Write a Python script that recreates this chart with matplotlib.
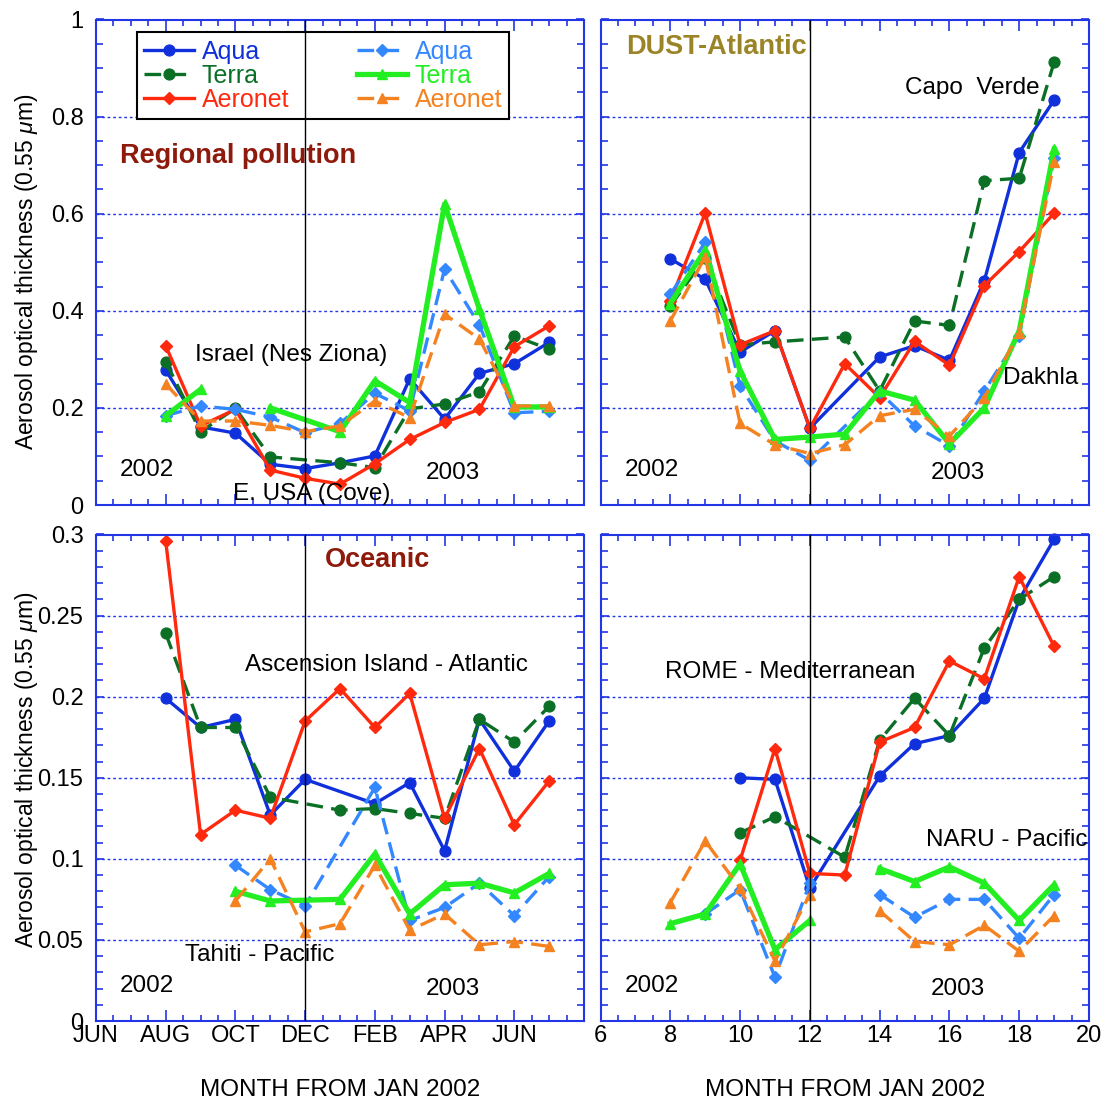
import numpy as np
import matplotlib
matplotlib.use("Agg")
import matplotlib.pyplot as plt
from matplotlib.ticker import MultipleLocator, FuncFormatter

plt.rcParams['font.family'] = 'Liberation Sans'
plt.rcParams['mathtext.fontset'] = 'custom'
plt.rcParams['mathtext.it'] = 'Liberation Sans:italic'
plt.rcParams['mathtext.rm'] = 'Liberation Sans'

NA = None      # month missing, line is drawn across it
GAP = np.nan   # month missing, line is broken

months = list(range(8, 20))  # month from Jan 2002

# Regional pollution: Israel (Nes Ziona) solid / E. USA (Cove) dashed
pol_aqua = [0.278, 0.161, 0.148, 0.084, 0.075, 0.087, 0.101, 0.26, 0.177, 0.271, 0.291, 0.335]
pol_terra = [0.295, 0.151, 0.199, 0.099, NA, 0.087, 0.077, 0.198, 0.208, 0.233, 0.348, 0.321]
pol_aeronet = [0.328, 0.163, 0.197, 0.072, 0.055, 0.043, 0.085, 0.135, 0.17, 0.197, 0.326, 0.369]
pol_aqua2 = [0.184, 0.204, 0.197, 0.181, 0.149, 0.168, 0.23, 0.194, 0.486, 0.371, 0.19, 0.193]
pol_terra2 = [0.184, 0.238, GAP, 0.2, NA, 0.151, 0.256, 0.211, 0.62, 0.403, 0.202, 0.202]
pol_aeronet2 = [0.249, 0.173, 0.173, 0.164, 0.151, 0.163, 0.214, 0.18, 0.393, 0.342, 0.204, 0.204]

# DUST-Atlantic: Capo Verde / Dakhla
dust_aqua = [0.507, 0.465, 0.315, 0.359, 0.158, NA, 0.305, 0.328, 0.298, 0.462, 0.726, 0.834]
dust_terra = [0.41, 0.509, 0.33, 0.336, NA, 0.346, 0.235, 0.379, 0.37, 0.668, 0.673, 0.912]
dust_aeronet = [0.42, 0.601, 0.33, 0.359, 0.158, 0.291, 0.221, 0.337, 0.288, 0.452, 0.522, 0.601]
dust_aqua2 = [0.434, 0.541, 0.245, 0.132, 0.092, NA, 0.232, 0.163, 0.122, 0.235, 0.348, 0.715]
dust_terra2 = [0.415, 0.525, 0.276, 0.135, 0.14, 0.146, 0.235, 0.216, 0.126, 0.2, 0.359, 0.733]
dust_aeronet2 = [0.379, 0.511, 0.168, 0.124, 0.106, 0.124, 0.184, 0.197, 0.142, 0.221, 0.355, 0.706]

# Oceanic: Ascension Island / Tahiti
oce_aqua = [0.199, 0.181, 0.186, 0.127, 0.149, NA, 0.134, 0.147, 0.105, 0.186, 0.154, 0.185]
oce_terra = [0.239, 0.181, 0.181, 0.138, NA, 0.13, 0.131, 0.128, 0.125, 0.186, 0.172, 0.194]
oce_aeronet = [0.296, 0.115, 0.13, 0.125, 0.185, 0.205, 0.181, 0.202, 0.125, 0.168, 0.121, 0.148]
oce_aqua2 = [NA, NA, 0.096, 0.081, 0.071, NA, 0.144, 0.062, 0.07, 0.085, 0.065, 0.089]
oce_terra2 = [NA, NA, 0.08, 0.074, NA, 0.075, 0.103, 0.066, 0.084, 0.085, 0.079, 0.091]
oce_aeronet2 = [NA, NA, 0.074, 0.1, 0.055, 0.06, 0.096, 0.056, 0.066, 0.047, 0.049, 0.046]

# ROME - Mediterranean / NARU - Pacific
med_aqua = [NA, NA, 0.15, 0.149, 0.082, NA, 0.151, 0.171, 0.176, 0.199, 0.26, 0.297]
med_terra = [NA, NA, 0.116, 0.126, NA, 0.101, 0.173, 0.199, 0.176, 0.23, 0.26, 0.274]
med_aeronet = [NA, NA, 0.099, 0.168, 0.091, 0.09, 0.172, 0.181, 0.222, 0.211, 0.274, 0.231]
med_aqua2 = [NA, 0.066, 0.081, 0.027, 0.085, GAP, 0.078, 0.064, 0.075, 0.075, 0.051, 0.078]
med_terra2 = [0.06, 0.066, 0.097, 0.044, 0.062, GAP, 0.094, 0.086, 0.095, 0.085, 0.062, 0.084]
med_aeronet2 = [0.073, 0.111, 0.082, 0.037, 0.078, GAP, 0.068, 0.049, 0.047, 0.059, 0.043, 0.065]

month_ticks = [6, 8, 10, 12, 14, 16, 18, 20]
month_names = ['JUN', 'AUG', 'OCT', 'DEC', 'FEB', 'APR', 'JUN', '']

# name, color, linestyle, marker, linewidth, markersize
styles = [
    ('Aqua', '#1030DC', '-', 'o', 2.4, 7.8),
    ('Terra', '#0B7026', (0, (5, 2.5)), 'o', 2.4, 7.8),
    ('Aeronet', '#FF2A0E', '-', 'D', 2.4, 6.2),
    ('Aqua', '#3388FF', (0, (5, 2.5)), 'D', 2.4, 6.2),
    ('Terra', '#22EE22', '-', '^', 3.8, 7.8),
    ('Aeronet', '#F58220', (0, (5, 2.5)), '^', 2.4, 7.8),
]

BLUE = '#2236E6'
FS = 17.5
W, H = 1106, 1107

fig = plt.figure(figsize=(W / 100, H / 100), dpi=100)


def add_ax(l, t, r, b):
    return fig.add_axes([l / W, 1 - b / H, (r - l) / W, (b - t) / H])


def series(vals):
    xs = [m for m, v in zip(months, vals) if v is not None]
    ys = [v for v in vals if v is not None]
    return xs, ys


def setup(ax, ymax, ymaj, ymin, left_labels, bottom):
    ax.set_xlim(6, 20)
    ax.set_ylim(0, ymax)
    ax.xaxis.set_major_locator(MultipleLocator(2))
    ax.xaxis.set_minor_locator(MultipleLocator(0.5))
    ax.yaxis.set_major_locator(MultipleLocator(ymaj))
    ax.yaxis.set_minor_locator(MultipleLocator(ymin))
    for s in ax.spines.values():
        s.set_color(BLUE)
        s.set_linewidth(1.5)
    ax.tick_params(which='both', direction='in', top=True, right=True,
                   color=BLUE, width=1.2, labelsize=17)
    ax.tick_params(axis='x', which='major', length=8, pad=3)
    ax.tick_params(axis='x', which='minor', length=4)
    ax.tick_params(axis='y', which='major', length=6, pad=9)
    ax.tick_params(axis='y', which='minor', length=5)
    ax.grid(axis='y', which='major', color=BLUE, linestyle=(0, (2, 2)), linewidth=1)
    ax.yaxis.set_major_formatter(FuncFormatter(lambda v, p: '%g' % round(v, 3)))
    ax.tick_params(labelleft=left_labels, labelbottom=False)
    if bottom == 'months':
        ax.set_xticks(month_ticks)
        ax.set_xticklabels(month_names)
        ax.tick_params(labelbottom=True)
    elif bottom == 'numbers':
        ax.tick_params(labelbottom=True)
    ax.axvline(12, color='k', lw=1, zorder=10)


def draw(ax, data):
    lines = []
    for vals, (name, c, ls, mk, lw, ms) in zip(data, styles):
        xs, ys = series(vals)
        ln, = ax.plot(xs, ys, color=c, linestyle=ls, marker=mk, lw=lw, ms=ms,
                      label=name, clip_on=False)
        lines.append(ln)
    return lines


ax1 = add_ax(96, 19.5, 584, 505)
ax2 = add_ax(600.5, 19.5, 1089, 505)
ax3 = add_ax(96, 534.5, 584, 1021)
ax4 = add_ax(600.5, 534.5, 1089, 1021)

setup(ax1, 1.0, 0.2, 0.05, True, None)
setup(ax2, 1.0, 0.2, 0.05, False, None)
setup(ax3, 0.3, 0.05, 0.01, True, 'months')
setup(ax4, 0.3, 0.05, 0.01, False, 'numbers')

handles = draw(ax1, [pol_aqua, pol_terra, pol_aeronet, pol_aqua2, pol_terra2, pol_aeronet2])
draw(ax2, [dust_aqua, dust_terra, dust_aeronet, dust_aqua2, dust_terra2, dust_aeronet2])
draw(ax3, [oce_aqua, oce_terra, oce_aeronet, oce_aqua2, oce_terra2, oce_aeronet2])
draw(ax4, [med_aqua, med_terra, med_aeronet, med_aqua2, med_terra2, med_aeronet2])

leg = ax1.legend(handles=handles, ncol=2, loc='upper left', bbox_to_anchor=(0.084, 0.974),
                 borderaxespad=0, fontsize=18, labelcolor='linecolor', numpoints=1,
                 handlelength=2.0, handletextpad=0.3, columnspacing=2.7,
                 labelspacing=0.0, borderpad=0.3, fancybox=False, framealpha=1)
leg.get_frame().set_edgecolor('k')
leg.get_frame().set_linewidth(1.5)

DARKRED = '#8E1A0C'
OLIVE = '#9A8426'

ax1.text(6.69, 0.718, 'Regional pollution', fontsize=19.5, fontweight='bold', color=DARKRED, va='center')
ax1.text(8.84, 0.309, 'Israel (Nes Ziona)', fontsize=FS, va='center')
ax1.text(9.93, 0.022, 'E. USA (Cove)', fontsize=FS, va='center', clip_on=False)
ax2.text(6.73, 0.943, 'DUST-Atlantic', fontsize=19.5, fontweight='bold', color=OLIVE, va='center')
ax2.text(14.72, 0.859, 'Capo  Verde', fontsize=FS, va='center')
ax2.text(17.53, 0.262, 'Dakhla', fontsize=FS, va='center')
ax3.text(12.57, 0.284, 'Oceanic', fontsize=19.5, fontweight='bold', color=DARKRED, va='center')
ax3.text(10.27, 0.2195, 'Ascension Island - Atlantic', fontsize=FS, va='center')
ax3.text(8.55, 0.0407, 'Tahiti - Pacific', fontsize=FS, va='center')
ax4.text(7.85, 0.215, 'ROME - Mediterranean', fontsize=FS, va='center')
ax4.text(15.33, 0.1116, 'NARU - Pacific', fontsize=FS, va='center', clip_on=True)

for ax, y02, y03 in [(ax1, 0.072, 0.066), (ax2, 0.072, 0.066), (ax3, 0.0216, 0.0197), (ax4, 0.0216, 0.0197)]:
    ax.text(6.69, y02, '2002', fontsize=FS, va='center')
    ax.text(15.47, y03, '2003', fontsize=FS, va='center')

ylab = r'Aerosol optical thickness (0.55 $\mu$m)'
fig.text(27 / W, 1 - 272 / H, ylab, rotation=90, fontsize=16.5, ha='center', va='center')
fig.text(27 / W, 1 - 770 / H, ylab, rotation=90, fontsize=16.5, ha='center', va='center')
fig.text(340 / W, 1 - 1090 / H, 'MONTH FROM JAN 2002', fontsize=FS, ha='center', va='center')
fig.text(845 / W, 1 - 1090 / H, 'MONTH FROM JAN 2002', fontsize=FS, ha='center', va='center')

fig.savefig('out.png', dpi=100)
